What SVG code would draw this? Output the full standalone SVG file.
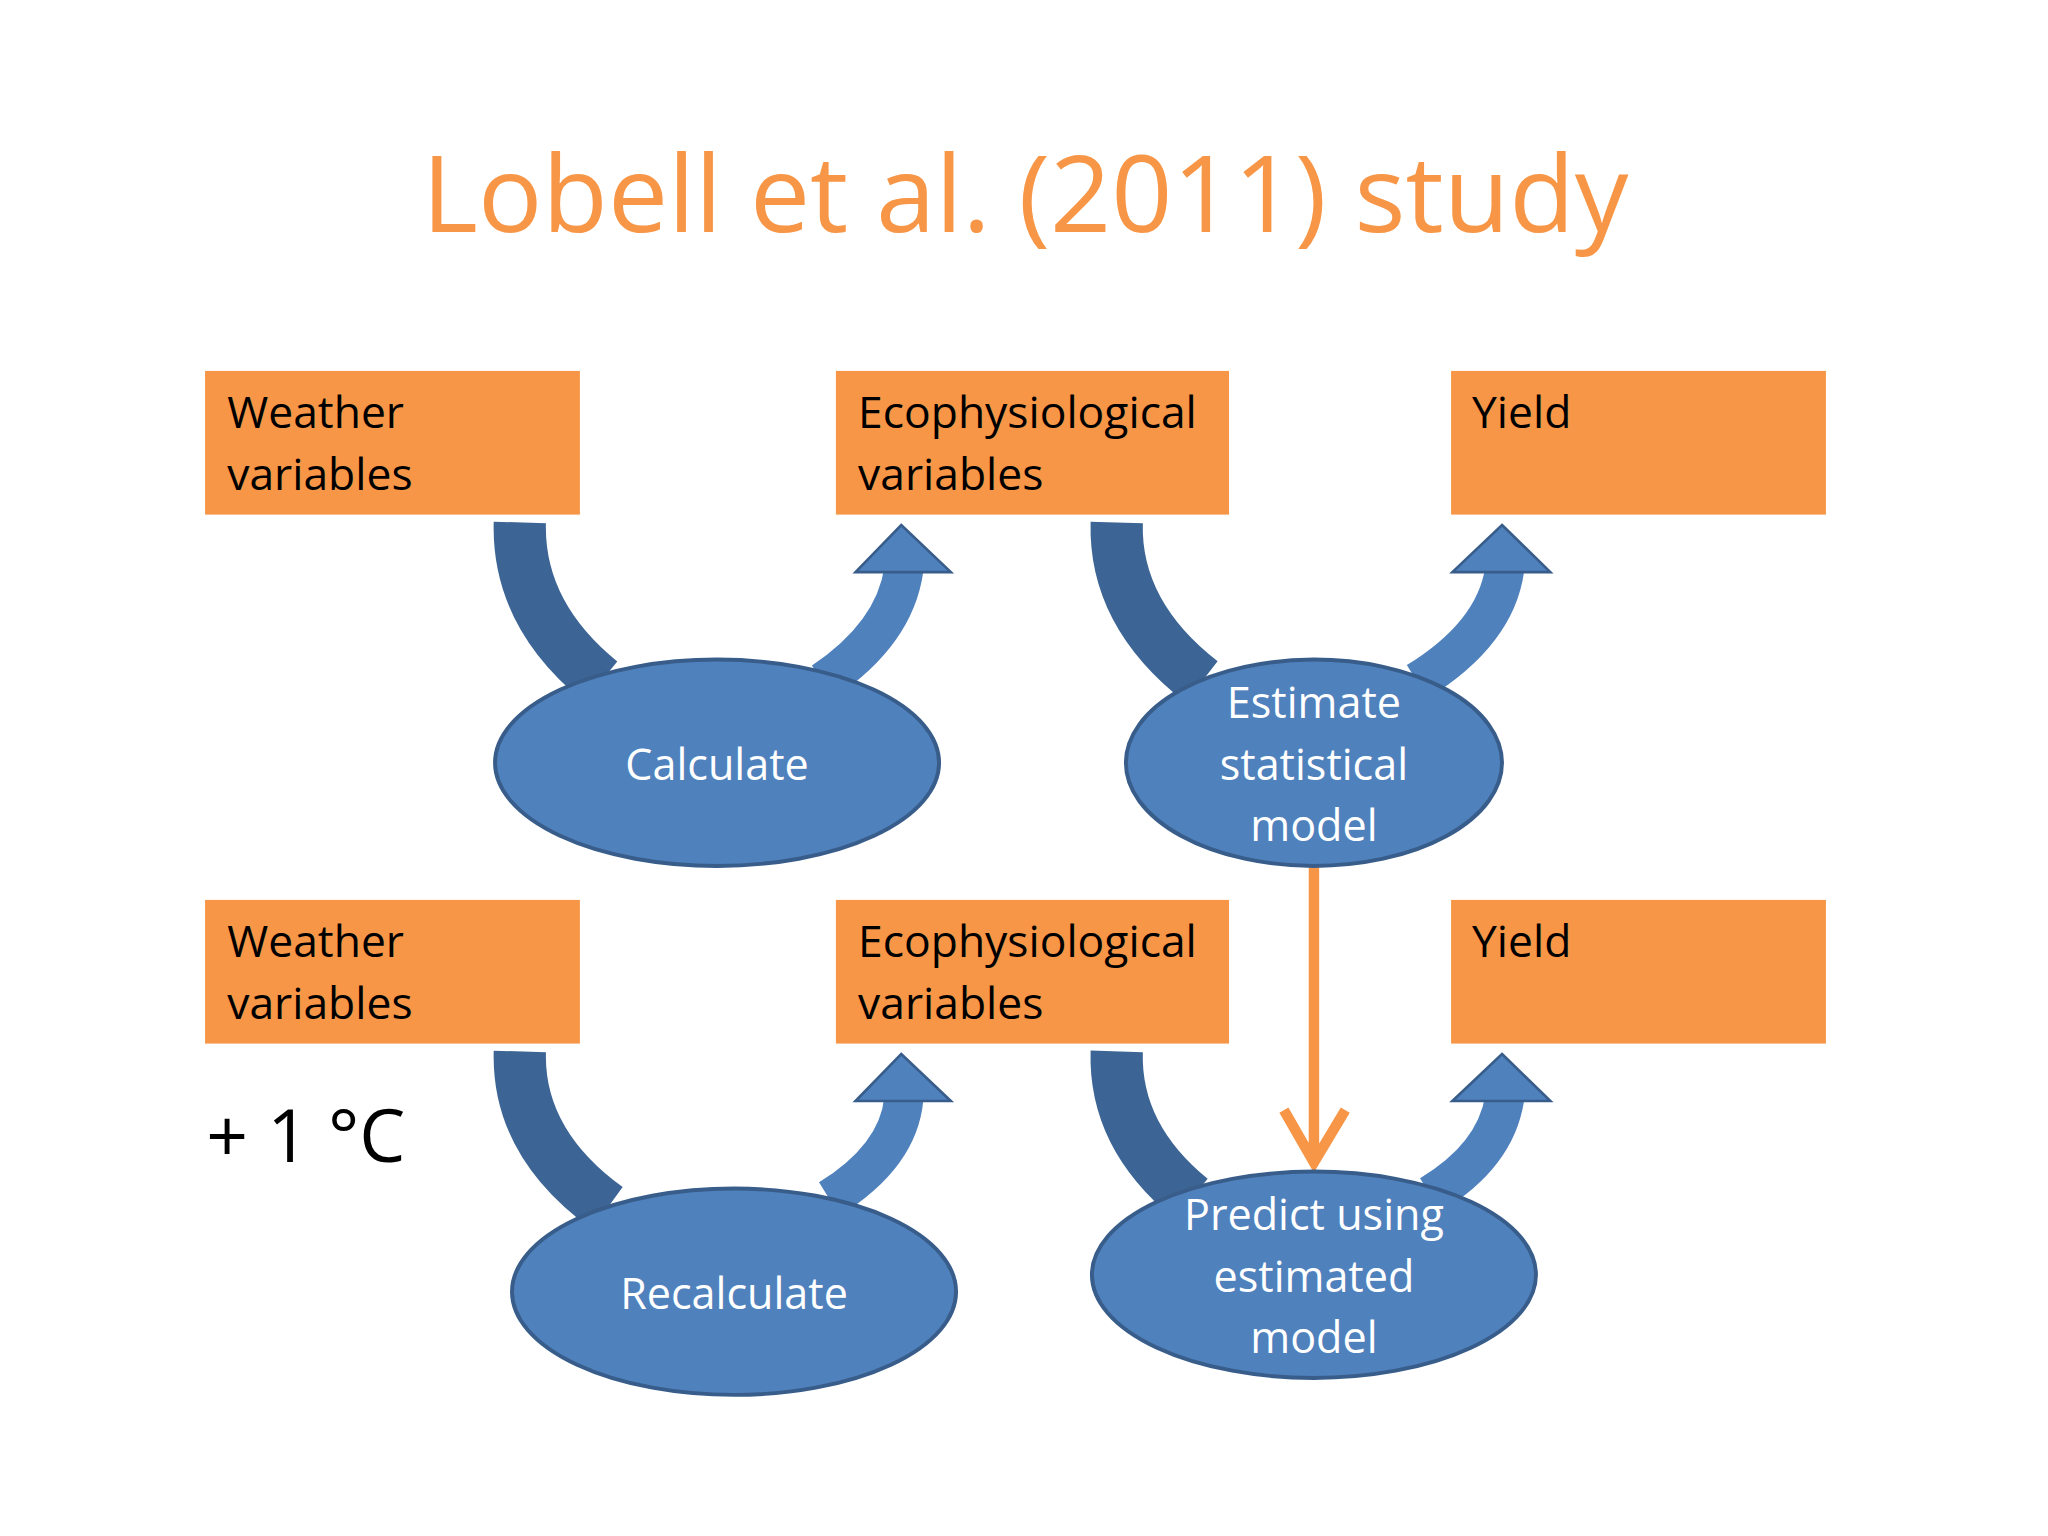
<svg xmlns="http://www.w3.org/2000/svg" width="2048" height="1536" viewBox="0 0 2048 1536">
<style>
.box{fill:#F79646}
.bt{font-family:"Open Sans","DejaVu Sans",sans-serif;font-size:34px;fill:#000}
.el{fill:#4F81BD;stroke:#385D8A;stroke-width:3}
.et{font-family:"Open Sans","DejaVu Sans",sans-serif;font-size:33px;fill:#fff;text-anchor:middle}
.dn{fill:none;stroke:#3C6595;stroke-width:40}
.up{fill:none;stroke:#4F81BD;stroke-width:30}
.hd{fill:#4F81BD;stroke:#385D8A;stroke-width:2}
</style>
<rect width="2048" height="1536" fill="#fff"/>
<g transform="scale(1.3061)">
<text x="785" y="178" text-anchor="middle" font-family="Open Sans, DejaVu Sans, sans-serif" font-size="82" fill="#F79646">Lobell et al. (2011) study</text>
<g id="connectors">
<path class="dn" d="M398,400 Q396,470 460,522"/>
<path class="up" d="M630,522 Q685,485 692,436"/>
<polygon class="hd" points="690,402 728,438 655,438"/>
<path class="dn" d="M855,400 Q853,470 920,522"/>
<path class="up" d="M1085,522 Q1145,485 1152,436"/>
<polygon class="hd" points="1150,402 1187,438 1112,438"/>
<path class="dn" d="M398,805 Q396,875 465,925"/>
<path class="up" d="M635,918 Q688,885 692,841"/>
<polygon class="hd" points="690,807 728,843 655,843"/>
<path class="dn" d="M855,805 Q853,870 912,918"/>
<path class="up" d="M1095,915 Q1145,885 1152,841"/>
<polygon class="hd" points="1150,807 1187,843 1112,843"/>
<path d="M1006,664 V890 M983,850 L1006,890 L1030,850" fill="none" stroke="#F79646" stroke-width="8"/>
</g>
<g id="n1"><rect class="box" x="157" y="284" width="287" height="110"/><text class="bt" x="174" y="328">Weather</text><text class="bt" x="174" y="375">variables</text></g>
<g id="n2"><rect class="box" x="640" y="284" width="301" height="110"/><text class="bt" x="657" y="328">Ecophysiological</text><text class="bt" x="657" y="375">variables</text></g>
<g id="n3"><rect class="box" x="1111" y="284" width="287" height="110"/><text class="bt" x="1127" y="328">Yield</text></g>
<g id="n4"><rect class="box" x="157" y="689" width="287" height="110"/><text class="bt" x="174" y="733">Weather</text><text class="bt" x="174" y="780">variables</text></g>
<g id="n5"><rect class="box" x="640" y="689" width="301" height="110"/><text class="bt" x="657" y="733">Ecophysiological</text><text class="bt" x="657" y="780">variables</text></g>
<g id="n6"><rect class="box" x="1111" y="689" width="287" height="110"/><text class="bt" x="1127" y="733">Yield</text></g>
<g id="e1"><ellipse class="el" cx="549" cy="584" rx="170" ry="79"/><text class="et" x="549" y="597">Calculate</text></g>
<g id="e2"><ellipse class="el" cx="1006" cy="584" rx="144" ry="79"/><text class="et" x="1006" y="550">Estimate</text><text class="et" x="1006" y="597">statistical</text><text class="et" x="1006" y="644">model</text></g>
<g id="e3"><ellipse class="el" cx="562" cy="989" rx="170" ry="79"/><text class="et" x="562" y="1002">Recalculate</text></g>
<g id="e4"><ellipse class="el" cx="1006" cy="976" rx="170" ry="79"/><text class="et" x="1006" y="942">Predict using</text><text class="et" x="1006" y="989">estimated</text><text class="et" x="1006" y="1036">model</text></g>
<text x="158" y="890" font-family="Open Sans, DejaVu Sans, sans-serif" font-size="56" fill="#000">+ 1 °C</text>
</g>
</svg>
